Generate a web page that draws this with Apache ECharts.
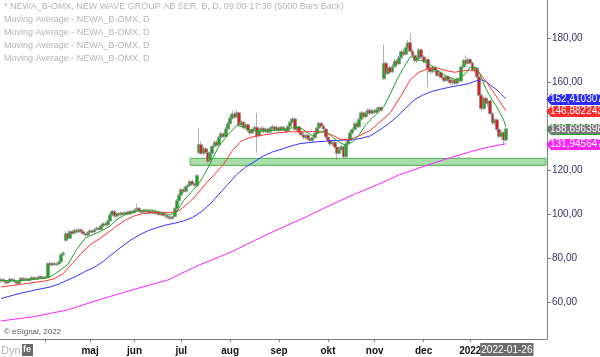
<!DOCTYPE html>
<html><head><meta charset="utf-8">
<script src="https://cdn.jsdelivr.net/npm/echarts@6/dist/echarts.min.js"></script>
<style>html,body{margin:0;padding:0;background:#fff}#c{width:600px;height:357px}</style>
</head><body><div id="c"></div>
<script>
// ---- categories (trading days) ----
const firstDay = '2021-03-04';
const lastDay = '2022-01-26';
const holidays = ['2021-04-02','2021-04-05','2021-05-13','2021-06-25','2021-12-24','2021-12-31','2022-01-06'];
const padBars = 18;
const monthLabels = {1:'2022',4:'',5:'maj',6:'jun',7:'jul',8:'aug',9:'sep',10:'okt',11:'nov',12:'dec'};
const yTicks = [60,80,100,120,140,160,180];
const yLabels = [60,80,100,120,160,180]; // 140 is hidden under the value tags in the reference

// ---- OHLC, [open, close, low, high] ----
const ohlcMar = [[69.5,70.2,68.8,71.0],[70.2,69.4,69.0,70.8],[69.4,68.6,68.0,69.8],[68.6,69.3,68.2,69.6],[69.3,70.4,69.0,71.2],[70.4,70.0,69.5,70.9],[70.0,69.2,68.7,70.3],[69.2,68.4,67.8,69.5],[68.4,69.6,68.2,70.0],[69.6,70.8,69.3,71.4],[70.8,70.1,69.7,71.2],[70.1,70.6,69.6,71.0],[70.6,69.9,69.5,70.9],[69.9,70.5,69.4,70.9],[70.5,71.2,70.1,71.8],[71.2,70.4,70.0,71.5],[70.4,70.9,70.0,71.3],[70.9,71.5,70.6,72.0],[71.5,70.8,70.5,71.8],[70.8,71.4,70.5,71.9]];
const ohlcApr = [[71.4,71.0,70.6,72.0],[71.2,77.5,71.0,78.0],[77.5,76.8,76.2,78.4],[76.8,77.6,76.4,78.2],[77.6,76.9,76.5,78.0],[76.9,77.3,76.3,77.9],[77.3,78.2,77.0,78.8],[78.2,81.5,78.0,82.0],[81.5,82.3,80.9,83.0],[88.0,91.0,87.5,92.2],[91.0,89.0,88.4,91.6],[89.0,92.0,88.6,93.0],[92.0,91.2,90.5,92.8],[91.2,92.6,90.8,93.5],[92.6,91.8,91.2,93.2],[91.8,92.8,91.4,93.6],[92.8,92.0,91.5,93.4],[92.0,91.0,90.4,92.4],[91.0,90.4,89.8,91.5],[90.4,91.6,90.0,92.2]];
const ohlcMay = [[91.6,92.4,91.0,93.0],[92.4,91.8,91.2,92.9],[91.8,92.9,91.5,93.4],[92.9,93.6,92.4,94.2],[93.6,93.0,92.5,94.0],[93.0,94.5,92.8,95.2],[94.5,95.6,94.0,96.4],[95.6,95.0,94.4,96.2],[95.0,96.8,94.8,97.5],[96.8,99.5,96.4,100.4],[99.5,101.2,99.0,102.0],[101.2,99.0,98.5,101.8],[99.0,100.2,98.4,100.8],[100.2,99.6,99.0,100.9],[99.6,100.5,99.2,101.2],[100.5,99.8,99.2,101.0],[99.8,100.8,99.4,101.5],[100.8,100.0,99.5,101.3],[100.0,101.2,99.6,101.8],[101.2,100.6,100.0,101.9]];
const ohlcJun = [[100.6,101.8,100.2,102.5],[101.8,102.6,101.2,104.5],[102.6,101.5,101.0,103.0],[101.5,100.8,100.2,102.0],[100.8,101.6,100.4,102.2],[101.6,100.9,100.4,102.0],[100.9,101.4,100.2,101.9],[101.4,100.5,100.0,101.8],[100.5,101.2,100.0,101.8],[101.2,100.2,99.7,101.5],[100.2,100.8,99.6,101.2],[100.8,99.7,99.2,101.0],[99.7,100.3,99.2,100.8],[100.3,99.4,98.9,100.6],[99.4,99.0,98.3,99.8],[99.0,98.4,97.8,99.4],[98.4,97.9,97.2,98.8],[97.9,98.8,97.3,99.2],[98.8,102.5,98.5,103.2],[102.5,106.0,102.0,106.8],[106.0,108.5,105.5,109.2]];
const ohlcJul = [[108.5,111.0,108.0,111.8],[111.0,110.2,109.5,112.0],[110.2,112.4,109.8,113.0],[112.4,113.0,111.6,113.8],[113.0,114.8,112.5,115.5],[114.8,113.6,113.0,115.6],[113.6,112.8,112.2,114.4],[112.8,117.5,112.5,118.0],[128.0,131.5,127.0,139.0],[131.5,127.5,126.8,133.0],[127.5,129.6,126.5,130.5],[129.6,128.0,127.2,130.4],[128.0,124.0,123.2,129.0],[124.5,127.6,123.6,128.4],[127.6,130.8,127.0,131.6],[130.8,132.6,130.0,133.5],[132.6,131.4,130.6,133.4],[131.4,134.8,131.0,135.6],[134.8,136.5,134.0,137.4],[136.5,135.2,134.5,137.2],[135.2,138.6,134.8,139.6],[138.6,141.0,138.0,142.0]];
const ohlcAug = [[141.0,143.5,140.5,144.5],[143.5,145.5,142.8,146.8],[145.5,144.0,143.2,146.6],[144.0,146.0,143.5,147.0],[146.0,140.5,140.0,146.4],[140.5,141.8,139.6,142.5],[141.8,139.2,138.5,142.2],[139.2,140.6,138.6,141.4],[140.6,138.0,137.4,141.0],[138.0,136.8,135.8,139.0],[136.8,138.5,136.2,139.2],[138.5,139.4,137.6,140.2],[139.4,135.5,128.0,146.0],[135.5,137.8,135.0,138.6],[137.8,139.0,137.0,140.0],[139.0,137.4,136.8,139.6],[137.4,138.6,136.8,139.4],[138.6,137.2,136.4,139.0],[137.2,138.8,136.8,139.6],[138.8,139.6,138.0,140.6],[139.6,138.2,137.5,140.2],[138.2,139.2,137.6,140.0]];
const ohlcSep = [[139.2,138.0,137.2,139.8],[138.0,139.5,137.6,140.2],[139.5,138.4,137.8,140.0],[138.4,137.6,136.8,139.0],[137.6,139.8,137.2,140.5],[139.8,141.6,139.2,142.4],[141.6,143.2,141.0,144.2],[143.2,138.4,138.0,144.0],[138.4,139.6,137.6,140.4],[139.6,137.2,136.6,140.0],[137.2,136.0,135.2,138.0],[136.0,134.8,133.8,136.8],[134.8,135.8,134.0,136.6],[135.8,134.2,133.4,136.4],[134.2,133.4,132.6,135.0],[133.4,134.6,132.8,135.4],[134.6,136.5,134.0,137.2],[136.5,139.0,136.0,139.8],[139.0,141.2,138.6,142.2],[141.2,140.0,139.4,142.0],[140.0,138.6,137.8,140.8],[138.6,135.0,134.4,139.2]];
const ohlcOct = [[135.0,133.6,132.8,135.8],[133.6,131.8,131.0,134.2],[131.8,132.6,130.8,133.4],[132.6,130.4,129.8,133.0],[130.4,127.6,124.5,131.0],[127.6,129.2,127.0,130.0],[129.2,130.6,128.5,131.4],[130.6,126.0,125.2,131.0],[126.0,131.8,125.6,132.6],[131.8,133.4,131.0,134.2],[133.4,136.8,133.0,137.6],[136.8,138.4,136.0,139.4],[138.4,141.0,137.8,141.8],[141.0,139.6,139.0,142.0],[139.6,143.0,139.2,143.8],[143.0,146.0,142.4,146.8],[146.0,144.2,143.4,146.6],[144.2,145.6,143.6,146.8],[145.6,147.2,145.0,148.0],[147.2,145.8,145.0,148.2],[145.8,147.0,145.2,147.8]];
const ohlcNov = [[147.0,146.2,145.4,147.8],[146.2,147.6,145.8,148.4],[147.6,148.4,146.8,149.0],[148.4,147.2,146.6,149.0],[161.5,168.5,161.0,177.0],[168.5,163.8,161.2,169.4],[163.8,166.5,163.0,167.4],[166.5,164.5,163.8,167.6],[164.5,167.0,164.0,168.4],[167.0,169.5,166.4,170.6],[169.5,168.2,167.4,170.4],[168.2,171.0,167.8,171.8],[171.0,173.8,170.6,174.8],[173.8,172.6,171.8,175.0],[172.6,175.6,172.0,176.6],[175.6,177.8,175.0,179.0],[177.8,174.0,173.4,182.0],[174.0,172.0,171.2,175.0],[172.0,169.6,169.0,172.8],[169.6,170.8,168.6,171.6],[170.8,174.6,170.2,175.6],[174.6,171.4,170.6,175.2]];
const ohlcDec = [[171.4,169.4,168.6,172.2],[169.4,170.2,168.4,171.0],[170.2,166.0,157.8,170.8],[166.0,164.6,163.6,167.0],[164.6,166.8,164.0,167.6],[166.8,165.2,164.4,167.4],[165.2,163.0,162.2,165.8],[163.0,164.2,162.4,165.0],[164.2,162.0,161.2,164.8],[162.0,160.6,159.8,162.8],[160.6,162.4,160.0,163.2],[162.4,161.0,160.2,163.0],[161.0,159.6,158.8,161.8],[159.6,160.8,158.6,161.6],[160.8,159.4,158.6,161.4],[159.4,161.2,158.8,162.0],[161.2,160.4,159.6,162.0],[160.4,166.8,160.0,167.6],[166.8,169.8,166.2,170.6],[169.8,168.4,167.6,172.0],[168.4,170.2,167.8,171.2]];
const ohlcJan = [[170.2,168.6,167.8,171.0],[168.6,165.4,164.8,169.2],[165.4,166.2,164.2,167.2],[166.2,162.4,161.6,166.8],[162.4,154.0,153.4,162.8],[154.0,148.0,146.6,154.6],[148.0,152.6,147.4,153.4],[152.6,150.2,149.4,153.4],[150.2,151.4,148.6,152.2],[151.4,145.6,145.0,152.0],[145.6,141.4,140.6,146.4],[141.4,142.8,140.2,143.6],[142.8,138.4,137.6,143.4],[138.4,135.2,134.4,139.2],[135.2,137.0,134.0,137.8],[137.0,133.6,131.4,137.6],[133.6,138.7,133.0,139.6]];

// ---- moving averages: [barIndex, value] ----
const maGreen = [[0,69.8],[8,69.6],[16,70.4],[20,70.8],[22,71.4],[26,74.0],[30,77.0],[34,84.0],[38,89.2],[44,91.8],[49,94.5],[52,97.5],[56,99.8],[60,101.0],[64,101.8],[68,101.8],[72,100.6],[76,99.5],[79,101.0],[82,106.0],[86,110.5],[89,114.0],[92,119.0],[95,125.0],[98,131.0],[102,136.0],[106,140.3],[109,139.5],[112,138.2],[116,137.6],[121,138.0],[126,138.2],[131,139.2],[134,139.5],[137,137.6],[140,135.6],[143,137.2],[146,137.6],[149,135.0],[152,132.6],[155,131.2],[158,132.8],[161,136.0],[164,140.6],[166,142.7],[169,145.5],[172,148.6],[175,154.5],[178,161.0],[181,166.5],[184,171.4],[186,171.2],[188,170.0],[192,168.6],[196,165.5],[200,162.8],[204,161.2],[206,161.5],[209,164.0],[211,166.8],[214,166.4],[216,162.0],[218,157.0],[221,151.5],[223,148.6],[226,142.7],[227,139.8]];
const maRed = [[0,66.8],[10,68.2],[20,69.6],[24,70.6],[28,73.0],[32,77.5],[36,82.0],[40,86.0],[44,88.6],[48,91.5],[52,94.6],[56,97.2],[60,99.2],[64,100.2],[68,100.6],[72,100.8],[76,100.6],[80,101.5],[84,104.8],[88,108.8],[92,113.8],[96,118.0],[100,122.5],[104,128.8],[108,133.2],[112,134.8],[116,135.6],[120,136.2],[125,137.0],[130,137.4],[135,137.3],[140,137.4],[145,137.2],[149,135.8],[153,133.8],[157,134.0],[161,135.5],[166,138.0],[170,141.5],[175,146.0],[180,154.0],[184,161.0],[188,164.5],[192,166.0],[196,166.4],[200,165.2],[204,164.4],[208,165.2],[212,165.4],[215,164.2],[218,160.5],[221,156.0],[224,151.5],[227,146.9]];
const maBlue = [[0,61.6],[8,63.8],[16,65.6],[22,66.8],[26,68.2],[30,70.0],[34,71.8],[38,74.0],[42,75.8],[46,78.5],[50,81.8],[54,85.0],[58,88.0],[62,90.4],[66,92.4],[70,93.8],[74,95.0],[78,95.8],[82,96.8],[86,98.4],[90,101.0],[94,104.5],[98,109.0],[102,113.5],[106,118.0],[110,121.4],[114,123.8],[118,126.4],[122,128.2],[126,129.4],[130,130.8],[134,131.9],[138,132.4],[142,132.8],[146,133.1],[150,133.4],[154,133.6],[158,133.8],[162,134.4],[166,135.5],[170,138.0],[174,140.8],[178,144.2],[182,148.2],[186,152.0],[190,154.2],[194,155.8],[198,156.8],[202,157.7],[206,158.4],[210,159.2],[214,160.6],[216,161.0],[218,160.2],[220,158.6],[223,156.4],[225,154.4],[227,152.4]];
const maMagenta = [[0,51.4],[14,53.2],[30,56.4],[44,61.0],[59,65.5],[75,70.0],[89,76.8],[103,82.5],[114,88.0],[125,93.2],[137,98.6],[148,104.0],[159,109.0],[169,113.2],[179,117.8],[191,122.0],[202,125.6],[211,128.3],[220,130.6],[227,131.9]];

// ---- last values shown in the tags on the right ----
const tagValues = [152.410307, 146.882243, 138.696398, 131.945647];
const tagFills = ['#2b2bff', '#ff2b2b', '#7a7a7a', '#ff22ff'];
const tagStrokes = ['#2b2bff', '#ff2b2b', '#22a022', '#ff22ff'];

// ---- support band ----
const bandLow = 122.1, bandHigh = 125.3, bandStartDay = '2021-07-07';

const legendLines = ['* NEWA_B-OMX, NEW WAVE GROUP AB SER. B, D, 09:00-17:30 (5000 Bars Back)',
  'Moving Average - NEWA_B-OMX, D','Moving Average - NEWA_B-OMX, D','Moving Average - NEWA_B-OMX, D','Moving Average - NEWA_B-OMX, D'];

// ---- build ----
function tradingDays(){
  const out=[]; const d=new Date(firstDay+'T00:00:00Z'); const end=new Date(lastDay+'T00:00:00Z');
  while(d<=end){
    const s=d.toISOString().slice(0,10); const wd=d.getUTCDay();
    if(wd!==0&&wd!==6&&!holidays.includes(s)) out.push(s);
    d.setUTCDate(d.getUTCDate()+1);
  }
  return out;
}
const days = tradingDays();
const ohlc = [].concat(ohlcMar,ohlcApr,ohlcMay,ohlcJun,ohlcJul,ohlcAug,ohlcSep,ohlcOct,ohlcNov,ohlcDec,ohlcJan);
const cats = days.slice();
for(let k=1;k<=padBars;k++) cats.push('pad'+k);
const isStart = cats.map((c,i)=> i>0 && i<days.length && c.slice(5,7)!==cats[i-1].slice(5,7));
const lastIdx = days.length-1;

const font = '"Liberation Sans", Arial, sans-serif';
const chart = echarts.init(document.getElementById('c'), null, {renderer:'canvas'});
function lineSeries(data,color){
  return {type:'line',data:data,symbol:'none',showSymbol:false,silent:true,z:3,
    lineStyle:{color:color,width:1},itemStyle:{color:color},animation:false};
}
const option = {
  animation:false,
  backgroundColor:'#fff',
  grid:{left:0,right:53,top:0,bottom:18,containLabel:false},
  xAxis:{type:'category',data:cats,boundaryGap:true,
    axisLine:{show:true,lineStyle:{color:'#7f7f7f',width:1}},
    axisTick:{show:true,alignWithLabel:true,length:3,interval:(i)=>isStart[i],lineStyle:{color:'#7f7f7f'}},
    axisLabel:{show:true,interval:(i)=>isStart[i],margin:7,color:'#111',fontWeight:'bold',fontSize:10,fontFamily:font,
      formatter:(v)=>{const m=parseInt(v.slice(5,7),10);return monthLabels[m]||'';}},
    splitLine:{show:false}},
  yAxis:{type:'value',position:'right',min:43.18,max:197.27,scale:true,
    axisLine:{show:true,lineStyle:{color:'#7f7f7f',width:1}},
    axisTick:{show:true,inside:false,length:4,customValues:yTicks,lineStyle:{color:'#7f7f7f'}},
    axisLabel:{show:true,customValues:yLabels,margin:5,color:'#35325f',fontSize:10,fontFamily:font,
      formatter:(v)=>v.toFixed(2).replace('.',',')},
    splitLine:{show:false}},
  series:[
    {type:'candlestick',data:ohlc,barWidth:3.4,z:2,silent:true,
      itemStyle:{color:'#1ea81e',color0:'#d42020',borderColor:'#8c8c8c',borderColor0:'#8c8c8c',borderWidth:0.7},
      markArea:{silent:true,z:1,itemStyle:{color:'rgba(140,210,140,0.75)',borderColor:'#55b055',borderWidth:1},
        data:[[{xAxis:days.indexOf(bandStartDay),yAxis:bandHigh},{xAxis:cats.length-1,yAxis:bandLow}]]}},
    lineSeries(maMagenta,'#ff22ff'),
    lineSeries(maBlue,'#3333ff'),
    lineSeries(maRed,'#ff3333'),
    lineSeries(maGreen,'#22a022')
  ]
};
chart.setOption(option);

const g = [];
legendLines.forEach((t,k)=>{
  g.push({type:'text',left:4,top:2+k*13,silent:true,z:10,
    style:{text:t,fill:'#b5b5b5',font:'9px '+font}});
});
g.push({type:'text',left:4,top:328,z:10,style:{text:'© eSignal, 2022',fill:'#555',font:'8px '+font}});
g.push({type:'text',left:1,top:345,z:10,style:{text:'Dyn',fill:'#b0b0b0',font:'11px '+font}});
g.push({type:'rect',left:22,top:344,z:10,shape:{width:11,height:12},style:{fill:'#6a6a6a'}});
g.push({type:'text',left:23,top:345,z:11,style:{text:'fe',fill:'#eee',font:'bold 9px '+font}});
// date label under last bar
const xLast = chart.convertToPixel({xAxisIndex:0}, lastIdx);
g.push({type:'text',x:xLast+1,y:343,z:12,
  style:{text:lastDay,fill:'#fff',font:'10px '+font,align:'center',textAlign:'center',verticalAlign:'top',textVerticalAlign:'top',
    backgroundColor:'#6b6b6b',padding:[2,1,1,1]}});
// value tags
tagValues.forEach((v,k)=>{
  const y = Math.round(chart.convertToPixel({yAxisIndex:0}, v))+0.5;
  g.push({type:'polygon',z:12,shape:{points:[[547,y],[551,y-5],[601,y-5],[601,y+5],[551,y+5]]},
    style:{fill:tagFills[k],stroke:tagStrokes[k],lineWidth:1}});
  g.push({type:'text',x:550,y:y,z:13,style:{text:v.toFixed(6).replace('.',','),fill:'#fff',font:'10px '+font,
    verticalAlign:'middle',textVerticalAlign:'middle'}});
});
chart.setOption({graphic:g});
</script></body></html>
